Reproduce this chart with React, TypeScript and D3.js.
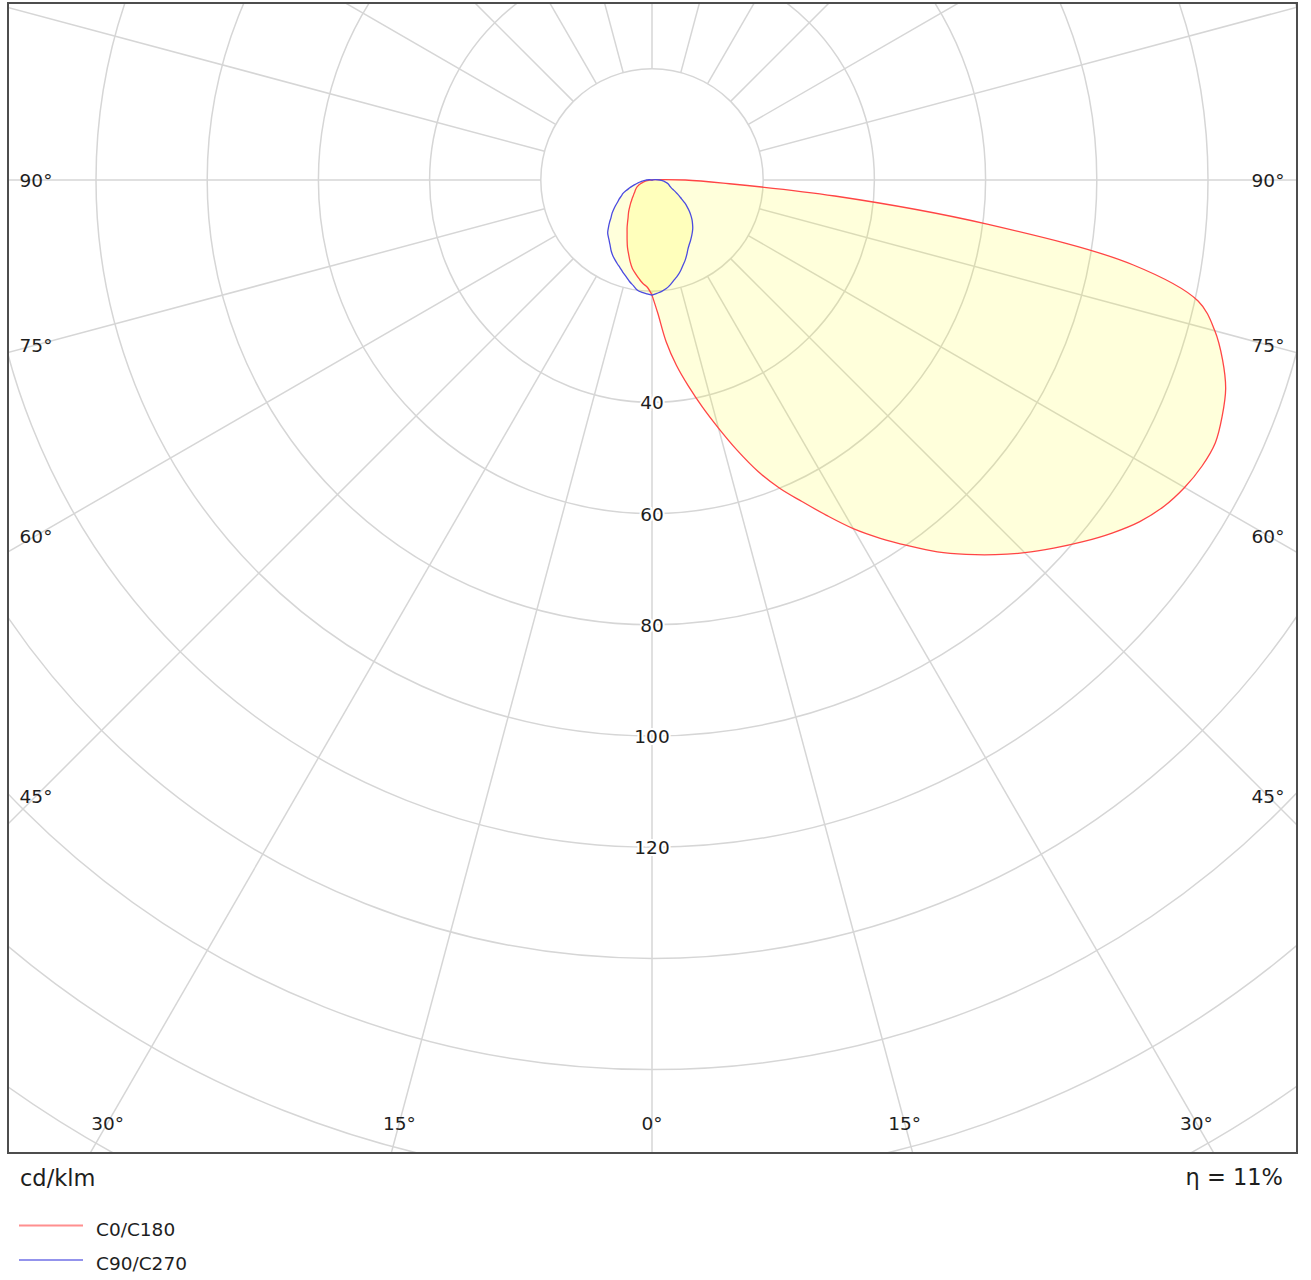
import React from "react";
import * as d3 from "d3";

// gamma angles (degrees from nadir)
const gammas = [
  0, 2.5, 5, 7.5, 10, 12.5, 15, 17.5, 20, 22.5, 25, 27.5, 30, 32.5, 35, 37.5, 40, 42.5, 45, 47.5,
  50, 52.5, 55, 57.5, 60, 62.5, 65, 67.5, 70, 72.5, 75, 77.5, 80, 82.5, 85, 87.5, 90,
  95, 100, 105, 110, 115, 120, 125, 130, 135, 140, 145, 150, 155, 160, 165, 170, 175, 180,
];

// cd/klm values
const c0 = [
  20.7, 24.0, 29.2, 33.6, 37.6, 41.8, 46.2, 51.0, 55.8, 60.0, 63.8, 68.0, 72.4, 76.4, 80.3, 84.3, 87.9, 91.4, 94.8, 98.0,
  101.2, 104.3, 107.1, 109.2, 110.6, 111.5, 111.8, 111.0, 109.8, 107.6, 104.8, 100.6, 87.8, 60.8, 33.0, 12.8, 6.0,
  0.8, 0.3, 0, 0, 0, 0, 0, 0, 0, 0, 0, 0, 0, 0, 0, 0, 0, 0,
];
const c180 = [
  20.7, 19.3, 18.7, 17.9, 17.1, 16.3, 15.2, 14.0, 12.9, 11.7, 10.6, 9.7, 8.8, 8.0, 7.4, 6.8, 6.2, 5.7, 5.2, 4.8,
  4.4, 4.1, 3.8, 3.6, 3.4, 3.2, 3.0, 2.7, 2.4, 2.1, 1.8, 1.5, 1.2, 0.9, 0.6, 0.4, 0.3,
  0, 0, 0, 0, 0, 0, 0, 0, 0, 0, 0, 0, 0, 0, 0, 0, 0, 0,
];
const c90 = [
  20.7, 20.4, 20.1, 19.7, 19.1, 18.4, 17.8, 17.1, 16.3, 15.6, 14.8, 14.0, 13.4, 12.9, 12.4, 11.9, 11.4, 10.8, 10.2, 9.5,
  8.8, 8.0, 7.2, 6.3, 5.6, 4.9, 4.3, 3.8, 3.5, 3.3, 3.1, 2.9, 2.6, 2.3, 2.0, 1.7, 1.4,
  0.6, 0.2, 0, 0, 0, 0, 0, 0, 0, 0, 0, 0, 0, 0, 0, 0, 0, 0,
];
const c270 = [
  20.7, 20.5, 20.3, 20.0, 19.3, 18.7, 18.0, 17.4, 16.8, 16.3, 15.8, 15.3, 14.7, 14.0, 13.4, 12.9, 12.4, 11.6, 10.8, 10.0,
  9.4, 8.7, 8.0, 7.3, 6.8, 6.2, 5.8, 5.1, 4.4, 3.8, 3.2, 2.7, 2.3, 1.9, 1.5, 1.2, 1.0,
  0.5, 0.2, 0, 0, 0, 0, 0, 0, 0, 0, 0, 0, 0, 0, 0, 0, 0, 0,
];

const ringValues = [20, 40, 60, 80, 100, 120, 140, 160, 180, 200, 220];
const ringLabels = [40, 60, 80, 100, 120];
const spokeAngles = [0, 15, 30, 45, 60, 75, 90, 105, 120, 135, 150, 165, 180, 195, 210, 225, 240, 255, 270, 285, 300, 315, 330, 345];
const angleLabels = [0, 15, 30, 45, 60, 75, 90];

const seriesNames = ["C0/C180", "C90/C270"];
const seriesColors = ["#ff4545", "#4b4be0"];
const unitLabel = "cd/klm";
const efficiencyLabel = "η = 11%";

const W = 1311;
const H = 1280;
const CX = 652;
const CY = 180;
const FR = { x: 8, y: 3, w: 1289, h: 1150 };
const FONT = "'DejaVu Sans', Verdana, sans-serif";

const rScale = d3.scaleLinear().domain([0, 20]).range([0, 111.2]);
const rad = (deg: number) => (deg * Math.PI) / 180;

type Pt = { a: number; v: number };

function closedShape(right: number[], left: number[]): Pt[] {
  const pts: Pt[] = [];
  gammas.forEach((g, i) => pts.push({ a: Math.PI - rad(g), v: right[i] }));
  for (let i = gammas.length - 1; i >= 0; i--) pts.push({ a: Math.PI + rad(gammas[i]), v: left[i] });
  return pts;
}

const radialLine = d3
  .lineRadial<Pt>()
  .angle((d) => d.a)
  .radius((d) => rScale(d.v))
  .curve(d3.curveCatmullRomClosed.alpha(0.5));

export default function App() {
  const shapes = [closedShape(c0, c180), closedShape(c90, c270)];
  const r0 = rScale(20);

  // angle label positions: ray hitting an inset box
  const xInset = 616;
  const yInset = 1123 - CY;
  const labelPos: { x: number; y: number; t: string }[] = [];
  angleLabels.forEach((a) => {
    const sides = a === 0 ? [1] : [1, -1];
    sides.forEach((s) => {
      const sn = Math.sin(rad(a));
      const cs = Math.cos(rad(a));
      const tSide = sn > 1e-9 ? xInset / sn : Infinity;
      const tBot = cs > 1e-9 ? yInset / cs : Infinity;
      const t = Math.min(tSide, tBot);
      labelPos.push({ x: CX + s * t * sn, y: CY + t * cs, t: `${a}°` });
    });
  });

  return (
    <svg width={W} height={H} style={{ position: "absolute", left: 0, top: 0 }} fontFamily={FONT}>
      <rect x={0} y={0} width={W} height={H} fill="#ffffff" />
      <defs>
        <clipPath id="frameClip">
          <rect x={FR.x} y={FR.y} width={FR.w} height={FR.h} />
        </clipPath>
      </defs>
      <g clipPath="url(#frameClip)">
        {ringValues.map((v) => (
          <circle key={v} cx={CX} cy={CY} r={rScale(v)} fill="none" stroke="#d6d6d6" strokeWidth={1.5} />
        ))}
        {spokeAngles.map((g) => (
          <line
            key={g}
            x1={CX + r0 * Math.sin(rad(g))}
            y1={CY + r0 * Math.cos(rad(g))}
            x2={CX + 2200 * Math.sin(rad(g))}
            y2={CY + 2200 * Math.cos(rad(g))}
            stroke="#d6d6d6"
            strokeWidth={1.5}
          />
        ))}
        <g transform={`translate(${CX},${CY})`}>
          {shapes.map((s, i) => (
            <path key={"f" + i} d={radialLine(s) || ""} fill="#ffff00" fillOpacity={0.14} stroke="none" />
          ))}
          {shapes.map((s, i) => (
            <path key={"s" + i} d={radialLine(s) || ""} fill="none" stroke={seriesColors[i]} strokeWidth={1.3} />
          ))}
        </g>
        {ringLabels.map((v) => (
          <text
            key={v}
            x={CX}
            y={CY + rScale(v) + 7}
            textAnchor="middle"
            fontSize={18.5}
            fill="#1e1e1e"
            stroke="#ffffff"
            strokeWidth={4}
            paintOrder="stroke"
          >
            {v}
          </text>
        ))}
      </g>
      {labelPos.map((p, i) => (
        <text key={i} x={p.x} y={p.y + 7} textAnchor="middle" fontSize={18.5} fill="#1e1e1e">
          {p.t}
        </text>
      ))}
      <rect x={FR.x} y={FR.y} width={FR.w} height={FR.h} fill="none" stroke="#4d4d4d" strokeWidth={2} />
      <text x={20} y={1186} fontSize={22.5} fill="#1e1e1e">
        {unitLabel}
      </text>
      <text x={1283} y={1185} fontSize={22.5} fill="#1e1e1e" textAnchor="end">
        {efficiencyLabel}
      </text>
      {seriesNames.map((n, i) => (
        <g key={n}>
          <line x1={19} x2={83} y1={1225.5 + i * 34.5} y2={1225.5 + i * 34.5} stroke={seriesColors[i]} strokeOpacity={0.6} strokeWidth={2} />
          <text x={96} y={1235.5 + i * 34.5} fontSize={18.5} fill="#1e1e1e">
            {n}
          </text>
        </g>
      ))}
    </svg>
  );
}
